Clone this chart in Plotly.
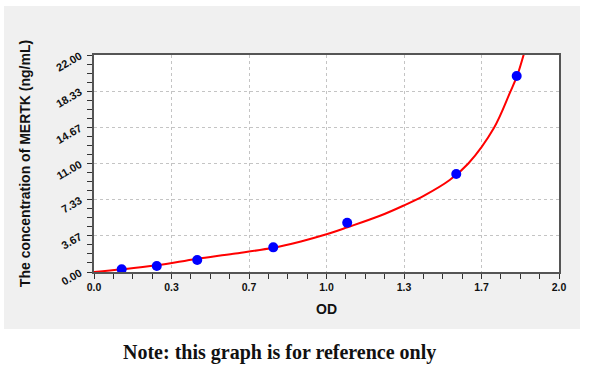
import plotly.graph_objects as go

# Standard points (OD vs concentration)
od_points = [0.119, 0.270, 0.444, 0.771, 1.089, 1.558, 1.818]
conc_points = [0.27, 0.61, 1.22, 2.50, 4.99, 9.94, 19.87]

# Fitted curve
curve_od = [0.0, 0.12, 0.27, 0.44, 0.60, 0.77, 0.89, 1.00, 1.09, 1.23, 1.33, 1.42, 1.53, 1.61, 1.72, 1.79, 1.82, 1.85]
curve_conc = [0.0, 0.27, 0.68, 1.32, 1.85, 2.45, 3.10, 3.82, 4.53, 5.70, 6.72, 7.75, 9.33, 11.0, 14.6, 18.24, 19.9, 22.2]

x_tickvals = [0, 1/3, 2/3, 1.0, 4/3, 5/3, 2.0]
x_ticktext = ["0.0", "0.3", "0.7", "1.0", "1.3", "1.7", "2.0"]
y_tickvals = [0, 22/6, 44/6, 11.0, 88/6, 110/6, 22.0]
y_ticktext = ["0.00", "3.67", "7.33", "11.00", "14.67", "18.33", "22.00"]

W, H = 600, 367
L, R, T, B = 94, 41, 55, 95
pw, ph = W - L - R, H - T - B

def px_to_paper_x(px):
    return (px - L) / pw

def px_to_paper_y(py):
    return (H - B - py) / ph

fig = go.Figure()
fig.add_trace(go.Scatter(x=curve_od, y=curve_conc, mode="lines", line=dict(color="#ff0000", width=2, shape="spline", smoothing=1.0), hoverinfo="skip", showlegend=False))
fig.add_trace(go.Scatter(x=od_points, y=conc_points, mode="markers", marker=dict(color="#0000ff", size=10), showlegend=False))

tickfont = dict(family="Liberation Sans, Arial, sans-serif", size=10.5, color="#111", weight="bold")
axis_common = dict(showline=True, mirror=True, linecolor="#555", linewidth=1.5,
                   ticks="outside", ticklen=5, tickcolor="#333", tickwidth=1,
                   showgrid=True, gridcolor="#c4c4c4", griddash="dot", gridwidth=1,
                   zeroline=False)
titlefont = dict(family="Liberation Sans, Arial, sans-serif", size=14, color="#111", weight="bold")

fig.update_xaxes(range=[0, 2], tickmode="array", tickvals=x_tickvals, ticktext=x_ticktext, tickfont=tickfont,
                 minor=dict(tickmode="linear", tick0=0, dtick=1/12, ticks="outside", ticklen=5, tickcolor="#333", showgrid=False),
                 title=dict(text="OD", font=titlefont, standoff=12),
                 **axis_common)
fig.update_yaxes(range=[0, 22], tickmode="array", tickvals=y_tickvals, ticktext=y_ticktext, tickangle=-30,
                 tickfont=dict(tickfont, size=11),
                 ticklabelstandoff=5,
                 minor=dict(tickmode="linear", tick0=0, dtick=22/24, ticks="outside", ticklen=5, tickcolor="#333", showgrid=False),
                 title=dict(text="The concentration of MERTK (ng/mL)", font=titlefont, standoff=20),
                 **axis_common)

fig.add_shape(type="rect", xref="paper", yref="paper", layer="below",
              x0=px_to_paper_x(4), x1=px_to_paper_x(580), y0=px_to_paper_y(329), y1=px_to_paper_y(6),
              fillcolor="#f0f0f0", line=dict(width=0))
fig.add_shape(type="rect", xref="paper", yref="paper", layer="below",
              x0=0, x1=1, y0=0, y1=1, fillcolor="#ffffff", line=dict(width=0))

fig.add_annotation(text="Note: this graph is for reference only", xref="paper", yref="paper",
                   x=px_to_paper_x(279), y=px_to_paper_y(352), xanchor="center", yanchor="middle",
                   showarrow=False, font=dict(family="Liberation Serif, DejaVu Serif, serif", size=20, color="#111", weight="bold"))

fig.update_layout(width=W, height=H, margin=dict(l=L, r=R, t=T, b=B, autoexpand=False),
                  paper_bgcolor="#ffffff", plot_bgcolor="#ffffff")

fig.write_html("out.html", config={"displayModeBar": False},
               post_script="document.body.style.margin='0';document.body.style.overflow='hidden';")
